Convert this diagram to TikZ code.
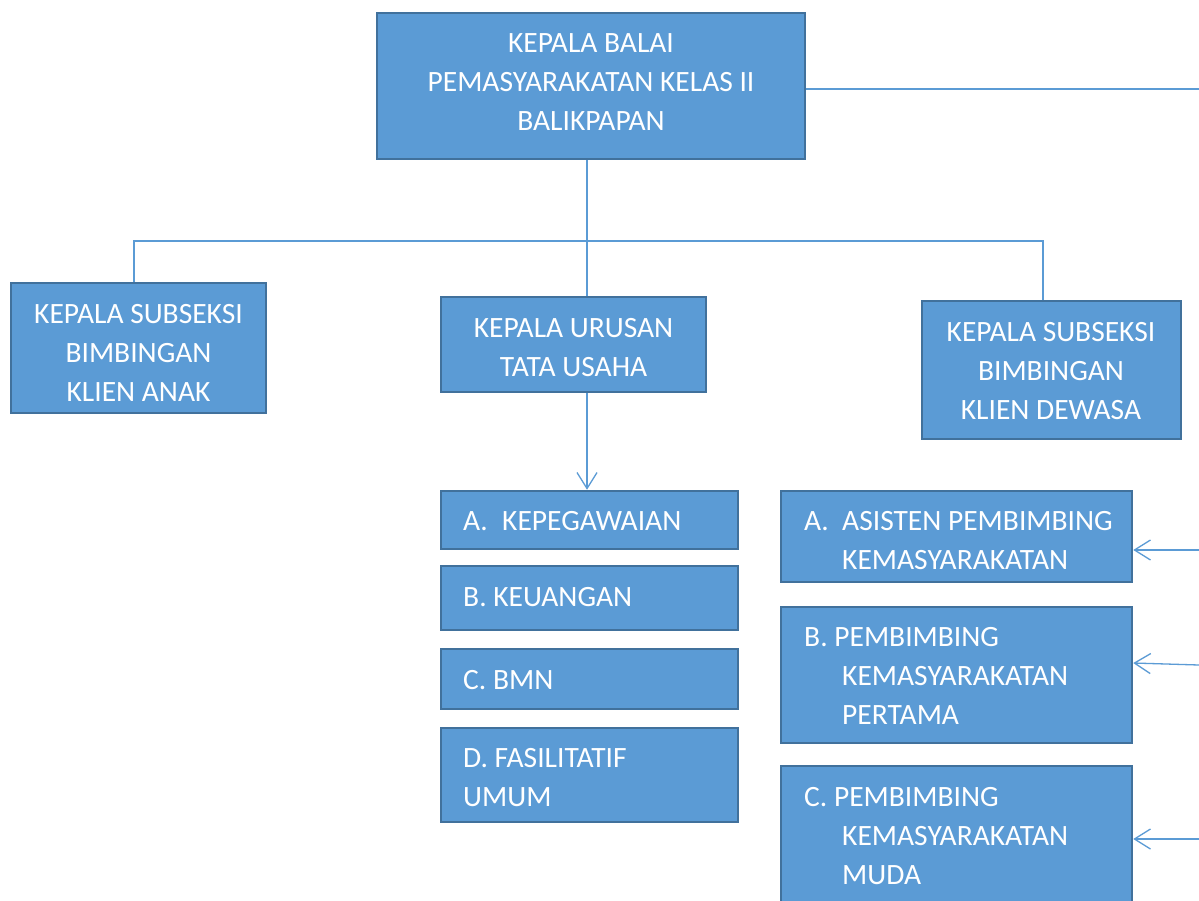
\documentclass[tikz,border=0pt]{standalone}
\usepackage{fontspec}
\setmainfont{Carlito}
\usetikzlibrary{arrows.meta}
\definecolor{boxfill}{HTML}{5B9BD5}
\definecolor{boxline}{HTML}{41719C}
\definecolor{conn}{HTML}{5B9BD5}
\begin{document}
\frenchspacing
\begin{tikzpicture}[x=1pt,y=-1pt,
  box/.style={draw=boxline, line width=2.5pt, fill=boxfill, inner sep=0pt},
  txt/.style={text=white, font=\fontsize{29.5}{39}\selectfont, inner sep=0pt},
  ctxt/.style={txt, align=center},
  ltxt/.style={txt, align=left, anchor=west},
  conline/.style={draw=conn, line width=1.3pt},
  arr/.style={conline, -{Straight Barb[length=16pt,width=20pt,line width=1.3pt]}}
]
\clip (0,0) rectangle (1199,900);
\fill[white] (0,0) rectangle (1199,900);

% boxes
\node[box, minimum width=428pt, minimum height=146pt] (top) at (591,86) {};
\node[box, minimum width=255pt, minimum height=130pt] (anak) at (138.5,348) {};
\node[box, minimum width=265pt, minimum height=95pt] (tu) at (573.5,344.5) {};
\node[box, minimum width=259pt, minimum height=138pt] (dewasa) at (1051.5,370) {};
\node[box, minimum width=297pt, minimum height=58pt] (ka) at (589.5,520) {};
\node[box, minimum width=297pt, minimum height=64pt] (kb) at (589.5,598) {};
\node[box, minimum width=297pt, minimum height=60pt] (kc) at (589.5,679) {};
\node[box, minimum width=297pt, minimum height=94pt] (kd) at (589.5,775) {};
\node[box, minimum width=351pt, minimum height=91pt] (pa) at (956.5,536.5) {};
\node[box, minimum width=351pt, minimum height=136pt] (pb) at (956.5,675) {};
\node[box, minimum width=351pt, minimum height=140pt] (pc) at (956.5,836) {};

% texts
\node[ctxt] (ttop) at (591,82.5) {KEPALA BALAI\\PEMASYARAKATAN KELAS II\\BALIKPAPAN};
\node[ctxt] (tanak) at (138.5,352.5) {KEPALA SUBSEKSI\\BIMBINGAN\\KLIEN ANAK};
\node[ctxt] (ttu) at (573.5,347.5) {KEPALA URUSAN\\TATA USAHA};
\node[ctxt] (tdewasa) at (1051,371) {KEPALA SUBSEKSI\\BIMBINGAN\\KLIEN DEWASA};
\node[ltxt] (tka) at (463,521) {\makebox[39pt][l]{A.}KEPEGAWAIAN};
\node[ltxt] (tkb) at (463,597) {B. KEUANGAN};
\node[ltxt] (tkc) at (463,680) {C. BMN};
\node[ltxt] (tkd) at (463,777.5) {D. FASILITATIF\\UMUM};
\node[ltxt] (tpa) at (804,540.5) {\makebox[38pt][l]{A.}ASISTEN PEMBIMBING\\\hspace*{38pt}KEMASYARAKATAN};
\node[ltxt] (tpb) at (804,676) {B. PEMBIMBING\\\hspace*{38pt}KEMASYARAKATAN\\\hspace*{38pt}PERTAMA};
\node[ltxt] (tpc) at (804,836) {C. PEMBIMBING\\\hspace*{38pt}KEMASYARAKATAN\\\hspace*{38pt}MUDA};

% connectors
\coordinate (j) at (587,241);
\coordinate (jl) at (134,241);
\coordinate (jr) at (1043,241);
\coordinate (re) at (1199,89);
\coordinate (ra) at (1199,550);
\coordinate (rb) at (1199,665);
\coordinate (rc) at (1199,839);

\draw[conline] (top.south -| j) -- (j);
\draw[conline] (anak.north -| jl) -- (jl) -- (jr) -- (dewasa.north -| jr);
\draw[conline] (j) -- (tu.north -| j);
\draw[arr] (tu.south -| j) -- (ka.north -| j);
\draw[conline] (top.east |- re) -- (re);
\draw[arr] (ra) -- (pa.east |- ra);
\draw[arr] (rb) -- ([yshift=12pt]pb.east);
\draw[arr] (rc) -- (pc.east |- rc);
\end{tikzpicture}
\end{document}
